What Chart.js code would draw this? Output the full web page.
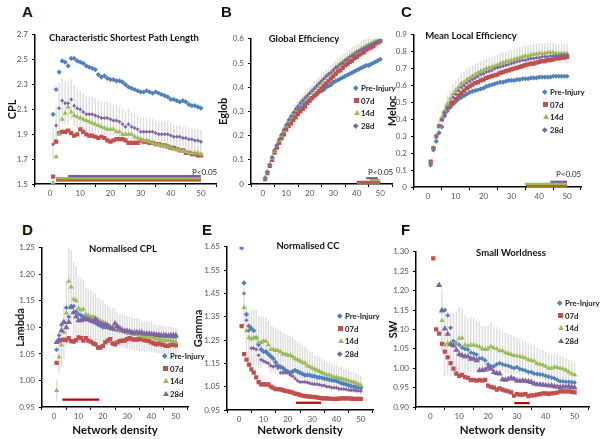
<!DOCTYPE html>
<html>
<head>
<meta charset="utf-8">
<script src="https://cdn.jsdelivr.net/npm/chart.js@4.4.1/dist/chart.umd.min.js"></script>
<style>
  body { margin: 0; background: #fff; width: 600px; height: 439px; position: relative; overflow: hidden; font-family: Lato, 'Liberation Sans', sans-serif; }
  canvas { position: absolute; }
  .t { position: absolute; white-space: nowrap; color: #111; font-weight: bold; line-height: 1; }
  .letter { font-size: 15px; font-family: 'Liberation Sans', Arial, sans-serif; }
  .title { font-size: 9.5px; transform: translateX(-50%); }
  .p05 { font-weight: normal; font-size: 8px; color: #222; }
  .leg { position: absolute; font-size: 7.8px; font-weight: bold; color: #222; line-height: 1; }
  .leg div { height: 0; position: relative; }
  .leg span.m { position: absolute; left: 0; top: -3px; }
  .leg span.l { position: absolute; left: 7px; top: -4px; white-space: nowrap; }
  .dia { width: 3.5px; height: 3.5px; transform: rotate(45deg); }
  .sq { width: 5px; height: 5px; margin-top: -0.5px; }
  .tri { width: 0; height: 0; border-left: 3px solid transparent; border-right: 3px solid transparent; border-bottom: 5px solid; margin-top: -1px; }
</style>
</head>
<body>
<canvas id="chartA"></canvas>
<canvas id="chartB"></canvas>
<canvas id="chartC"></canvas>
<canvas id="chartD"></canvas>
<canvas id="chartE"></canvas>
<canvas id="chartF"></canvas>

<div class="t letter" style="left:22px;top:4px">A</div>
<div class="t letter" style="left:221px;top:4px">B</div>
<div class="t letter" style="left:401px;top:4px">C</div>
<div class="t letter" style="left:22px;top:222px">D</div>
<div class="t letter" style="left:202px;top:222px">E</div>
<div class="t letter" style="left:401px;top:222px">F</div>

<div class="t title" style="left:124px;top:33px">Characteristic Shortest Path Length</div>
<div class="t title" style="left:304px;top:34px">Global Efficiency</div>
<div class="t title" style="left:471px;top:31px">Mean Local Efficiency</div>
<div class="t title" style="left:123px;top:244px">Normalised CPL</div>
<div class="t title" style="left:308px;top:241px">Normalised CC</div>
<div class="t title" style="left:511px;top:248px">Small Worldness</div>

<div class="t p05" style="left:192px;top:168px">P&lt;0.05</div>
<div class="t p05" style="left:368px;top:168px">P&lt;0.05</div>
<div class="t p05" style="left:556px;top:170px">P&lt;0.05</div>

<div id="legB" class="leg" style="left:354px;top:89px"></div>
<div id="legC" class="leg" style="left:543px;top:93px"></div>
<div id="legD" class="leg" style="left:163px;top:357px"></div>
<div id="legE" class="leg" style="left:338px;top:317px"></div>
<div id="legF" class="leg" style="left:558px;top:304px"></div>

<script>
// network density, x = 1..50
const density = Array.from({ length: 50 }, (_, i) => i + 1);
const groups = ['Pre-Injury', '07d', '14d', '28d'];

// A - characteristic shortest path length
const cplPre = [2.06,2.26,2.40,2.49,2.48,2.45,2.51,2.51,2.49,2.48, 2.47,2.45,2.44,2.43,2.42,2.38,2.36,2.37,2.35,2.34, 2.34,2.33,2.33,2.32,2.30,2.28,2.27,2.26,2.25,2.24, 2.24,2.25,2.24,2.23,2.24,2.23,2.22,2.21,2.20,2.18, 2.18,2.17,2.16,2.17,2.16,2.14,2.13,2.13,2.12,2.11];
const cpl07 = [1.56,1.84,1.91,1.92,1.92,1.93,1.91,1.89,1.90,1.94, 1.92,1.90,1.89,1.89,1.88,1.87,1.88,1.87,1.85,1.84, 1.85,1.86,1.86,1.86,1.85,1.83,1.83,1.83,1.83,1.85, 1.84,1.84,1.83,1.83,1.82,1.82,1.81,1.81,1.80,1.79, 1.79,1.78,1.77,1.77,1.75,1.75,1.74,1.74,1.73,1.73];
const cpl14 = [1.51,1.72,1.90,2.02,2.07,2.12,2.08,2.05,2.04,2.03, 2.02,2.01,2.00,1.99,1.98,1.97,1.96,1.95,1.94,1.94, 1.94,1.92,1.92,1.90,1.90,1.90,1.90,1.88,1.87,1.86, 1.85,1.85,1.84,1.83,1.82,1.82,1.81,1.81,1.80,1.79, 1.78,1.78,1.77,1.77,1.76,1.75,1.75,1.75,1.75,1.74];
const cpl28 = [1.82,1.97,2.11,2.17,2.15,2.15,2.18,2.13,2.11,2.10, 2.08,2.06,2.06,2.06,2.05,2.04,2.03,2.03,2.03,2.02, 2.01,2.01,2.00,1.98,1.96,1.98,1.96,1.95,1.94,1.92, 1.92,1.92,1.92,1.92,1.91,1.90,1.90,1.90,1.90,1.89, 1.88,1.88,1.88,1.87,1.87,1.86,1.86,1.85,1.85,1.84];
const cplErr = [0.12,0.15,0.20,0.18,0.17,0.17,0.16,0.16,0.15,0.15, 0.15,0.14,0.14,0.14,0.14,0.13,0.13,0.13,0.13,0.13, 0.12,0.12,0.12,0.12,0.12,0.12,0.11,0.11,0.11,0.11, 0.11,0.11,0.11,0.10,0.10,0.10,0.10,0.10,0.10,0.10, 0.09,0.09,0.09,0.09,0.09,0.09,0.09,0.09,0.09,0.09];
const cplSig = [[6, 50, 1.563], [2, 50, 1.548], [2, 50, 1.537], [2, 50, 1.527]];

// B - global efficiency
const eglobPre = [0.025,0.05,0.08,0.11,0.135,0.16,0.18,0.20,0.22,0.24, 0.255,0.27,0.285,0.295,0.305,0.315,0.325,0.335,0.34,0.35, 0.355,0.365,0.37,0.38,0.385,0.39,0.40,0.405,0.41,0.42, 0.425,0.43,0.435,0.44,0.445,0.45,0.455,0.46,0.465,0.47, 0.475,0.48,0.485,0.49,0.49,0.495,0.50,0.505,0.51,0.515];
const eglob07 = [0.02,0.045,0.075,0.10,0.13,0.15,0.17,0.19,0.205,0.225, 0.24,0.25,0.265,0.275,0.29,0.30,0.31,0.32,0.335,0.345, 0.355,0.365,0.375,0.385,0.395,0.405,0.415,0.425,0.435,0.445, 0.455,0.465,0.47,0.48,0.49,0.495,0.505,0.51,0.52,0.525, 0.535,0.54,0.545,0.555,0.56,0.565,0.57,0.58,0.585,0.59];
const eglob14 = [0.025,0.05,0.08,0.105,0.135,0.16,0.18,0.20,0.22,0.24, 0.26,0.275,0.29,0.305,0.32,0.33,0.345,0.355,0.365,0.375, 0.385,0.395,0.405,0.415,0.425,0.435,0.445,0.45,0.46,0.47, 0.48,0.49,0.495,0.505,0.51,0.52,0.525,0.535,0.54,0.545, 0.55,0.56,0.565,0.57,0.575,0.58,0.585,0.59,0.595,0.60];
const eglob28 = [0.025,0.05,0.08,0.11,0.14,0.16,0.185,0.205,0.225,0.245, 0.265,0.28,0.295,0.31,0.32,0.335,0.345,0.355,0.365,0.375, 0.385,0.395,0.405,0.415,0.425,0.435,0.445,0.455,0.46,0.47, 0.48,0.485,0.495,0.50,0.51,0.515,0.525,0.53,0.535,0.545, 0.55,0.555,0.56,0.565,0.57,0.575,0.58,0.585,0.59,0.595];
const eglobErr = [0.004,0.006,0.008,0.01,0.012,0.013,0.014,0.015,0.016,0.017, 0.018,0.019,0.02,0.02,0.021,0.022,0.022,0.023,0.024,0.024, 0.025,0.025,0.026,0.026,0.027,0.027,0.028,0.028,0.028,0.029, 0.029,0.029,0.03,0.03,0.03,0.03,0.03,0.03,0.03,0.03, 0.03,0.03,0.03,0.03,0.03,0.03,0.03,0.03,0.03,0.03];
const eglobSig = [[44, 49, 0.024], [45.5, 50, 0.016], [40, 50, 0.009], [40, 50, 0.004]];

// C - mean local efficiency
const melocPre = [0.13,0.22,0.27,0.32,0.355,0.42,0.45,0.47,0.49,0.505, 0.52,0.53,0.54,0.55,0.56,0.565,0.57,0.575,0.58,0.585, 0.595,0.60,0.605,0.61,0.615,0.62,0.62,0.625,0.63,0.63, 0.63,0.635,0.635,0.64,0.64,0.64,0.645,0.645,0.645,0.65, 0.65,0.65,0.65,0.65,0.655,0.655,0.655,0.655,0.655,0.655];
const meloc07 = [0.15,0.23,0.30,0.36,0.40,0.44,0.47,0.48,0.50,0.52, 0.54,0.555,0.57,0.585,0.595,0.605,0.615,0.62,0.63,0.635, 0.645,0.65,0.655,0.66,0.665,0.675,0.68,0.685,0.69,0.695, 0.70,0.705,0.71,0.715,0.72,0.725,0.73,0.73,0.735,0.74, 0.745,0.745,0.75,0.75,0.755,0.76,0.76,0.765,0.765,0.77];
const meloc14 = [0.14,0.23,0.30,0.36,0.41,0.45,0.49,0.52,0.55,0.57, 0.59,0.61,0.62,0.635,0.645,0.655,0.665,0.675,0.685,0.69, 0.70,0.705,0.71,0.715,0.72,0.73,0.735,0.74,0.745,0.75, 0.755,0.76,0.765,0.77,0.775,0.775,0.78,0.785,0.785,0.79, 0.79,0.79,0.795,0.795,0.795,0.79,0.79,0.79,0.79,0.79];
const meloc28 = [0.14,0.23,0.30,0.36,0.40,0.44,0.47,0.50,0.53,0.55, 0.57,0.59,0.60,0.615,0.625,0.635,0.645,0.655,0.665,0.67, 0.68,0.685,0.69,0.70,0.705,0.71,0.715,0.72,0.725,0.73, 0.735,0.74,0.745,0.75,0.75,0.755,0.76,0.76,0.765,0.765, 0.77,0.77,0.77,0.775,0.775,0.775,0.775,0.78,0.78,0.78];
const melocErr = [0.01,0.02,0.03,0.035,0.04,0.045,0.05,0.05,0.055,0.055, 0.06,0.06,0.06,0.06,0.06,0.06,0.06,0.06,0.06,0.06, 0.06,0.06,0.06,0.06,0.06,0.06,0.06,0.06,0.06,0.06, 0.06,0.06,0.06,0.06,0.06,0.06,0.06,0.06,0.06,0.06, 0.06,0.06,0.055,0.055,0.055,0.055,0.055,0.055,0.055,0.055];
const melocSig = [[44, 50, 0.031], [34.7, 50, 0.019], [35.2, 50, 0.012], [35.6, 50, 0.006]];

// D - normalised CPL (lambda)
const lambdaPre = [1.058,1.085,1.105,1.11,1.137,1.12,1.14,1.14,1.13,1.125, 1.123,1.12,1.12,1.115,1.112,1.11,1.108,1.105,1.103,1.10, 1.10,1.10,1.098,1.097,1.096,1.095,1.094,1.093,1.092,1.09, 1.09,1.089,1.088,1.088,1.087,1.087,1.086,1.086,1.085,1.085, 1.085,1.084,1.084,1.084,1.083,1.083,1.083,1.083,1.082,1.082];
const lambda07 = [1.033,1.075,1.076,1.077,1.076,1.08,1.074,1.073,1.076,1.081, 1.08,1.075,1.08,1.075,1.073,1.07,1.068,1.062,1.062,1.065, 1.072,1.075,1.078,1.07,1.068,1.072,1.074,1.075,1.075,1.078, 1.08,1.078,1.077,1.077,1.078,1.078,1.076,1.075,1.074,1.072, 1.07,1.068,1.07,1.068,1.067,1.065,1.065,1.067,1.068,1.066];
const lambda14 = [0.981,1.044,1.067,1.091,1.127,1.187,1.176,1.153,1.15,1.136, 1.133,1.134,1.125,1.122,1.12,1.12,1.118,1.115,1.112,1.11, 1.108,1.105,1.102,1.10,1.10,1.098,1.095,1.093,1.092,1.09, 1.09,1.088,1.087,1.087,1.085,1.084,1.082,1.083,1.082,1.082, 1.08,1.078,1.078,1.077,1.075,1.075,1.076,1.075,1.074,1.073];
const lambda28 = [1.072,1.076,1.094,1.11,1.10,1.11,1.138,1.128,1.12,1.113, 1.113,1.115,1.115,1.115,1.113,1.112,1.115,1.11,1.107,1.105, 1.105,1.103,1.10,1.098,1.107,1.102,1.098,1.095,1.093,1.093, 1.092,1.09,1.09,1.09,1.09,1.09,1.088,1.088,1.088,1.087, 1.087,1.086,1.086,1.085,1.085,1.085,1.084,1.085,1.085,1.085];
const lambdaErr = [0.02,0.03,0.04,0.05,0.06,0.07,0.07,0.07,0.065,0.06, 0.06,0.055,0.05,0.05,0.05,0.045,0.045,0.04,0.04,0.04, 0.035,0.035,0.035,0.035,0.035,0.03,0.03,0.03,0.03,0.03, 0.03,0.03,0.03,0.03,0.03,0.028,0.028,0.028,0.028,0.028, 0.026,0.026,0.026,0.026,0.026,0.025,0.025,0.025,0.025,0.025];
const lambdaSig = [[3.4, 18.5, 0.964]];

// E - normalised CC (gamma)
const gammaPre = [1.645,1.495,1.36,1.31,1.30,1.29,1.26,1.23,1.21,1.20, 1.20,1.19,1.18,1.17,1.155,1.14,1.135,1.13,1.12,1.115, 1.11,1.115,1.12,1.115,1.11,1.105,1.10,1.10,1.10,1.095, 1.095,1.09,1.09,1.088,1.085,1.083,1.08,1.078,1.076,1.075, 1.07,1.065,1.062,1.06,1.055,1.052,1.05,1.048,1.046,1.045];
const gamma07 = [1.31,1.19,1.166,1.145,1.124,1.11,1.09,1.07,1.06,1.06, 1.06,1.06,1.05,1.045,1.04,1.04,1.038,1.035,1.032,1.03, 1.028,1.025,1.02,1.018,1.015,1.012,1.01,1.008,1.007,1.006, 1.005,1.004,1.002,1.0,1.0,1.0,0.999,0.998,0.998,0.998, 0.999,1.0,1.0,1.0,1.0,0.999,0.998,0.998,0.998,0.998];
const gamma14 = [null,1.39,1.29,1.26,1.255,1.26,1.26,1.24,1.24,1.246, 1.245,1.23,1.21,1.21,1.205,1.205,1.20,1.19,1.19,1.185, 1.185,1.18,1.17,1.165,1.16,1.155,1.15,1.14,1.135,1.13, 1.125,1.12,1.115,1.11,1.105,1.10,1.10,1.095,1.09,1.09, 1.085,1.085,1.08,1.08,1.075,1.07,1.07,1.065,1.06,1.055];
const gamma28 = [null,1.45,1.335,1.29,1.215,1.215,1.21,1.185,1.165,1.16, 1.155,1.15,1.14,1.135,1.14,1.13,1.11,1.11,1.11,1.11, 1.10,1.095,1.085,1.075,1.07,1.07,1.07,1.068,1.065,1.062, 1.06,1.06,1.058,1.055,1.055,1.05,1.05,1.045,1.045,1.045, 1.04,1.04,1.04,1.038,1.036,1.035,1.035,1.033,1.033,1.032];
const gammaErr = [null,0.08,0.1,0.11,0.12,0.12,0.12,0.11,0.11,0.1, 0.1,0.1,0.1,0.095,0.095,0.09,0.09,0.09,0.085,0.085, 0.08,0.08,0.08,0.075,0.075,0.07,0.07,0.07,0.065,0.065, 0.06,0.06,0.06,0.058,0.056,0.055,0.054,0.052,0.05,0.05, 0.048,0.047,0.046,0.045,0.044,0.043,0.042,0.041,0.04,0.04];
const gammaSig = [[23.3, 33.6, 0.981]];

// F - small worldness
const swPre = [null,null,null,1.15,1.15,1.136,1.104,1.07,1.065,1.06, 1.053,1.05,1.048,1.04,1.038,1.035,1.025,1.025,1.02,1.01, 1.005,1.005,1.01,1.013,1.01,1.008,1.006,1.003,1.0,1.003, 0.998,0.996,0.994,0.99,0.99,0.986,0.985,0.984,0.983,0.98, 0.978,0.976,0.974,0.97,0.966,0.966,0.965,0.965,0.964,0.963];
const sw07 = [1.283,1.10,1.089,1.063,1.043,1.028,1.013,0.999,0.986,0.98, 0.983,0.977,0.975,0.969,0.97,0.968,0.97,0.968,0.97,0.955, 0.952,0.95,0.945,0.948,0.945,0.942,0.94,0.938,0.929,0.933, 0.932,0.932,0.933,0.928,0.93,0.93,0.932,0.933,0.935,0.935, 0.934,0.935,0.936,0.937,0.94,0.94,0.94,0.94,0.939,0.938];
const sw14 = [null,null,null,1.123,1.06,1.064,1.06,1.062,1.065,1.077, 1.078,1.06,1.058,1.06,1.06,1.058,1.055,1.05,1.048,1.05, 1.056,1.052,1.05,1.045,1.045,1.04,1.038,1.035,1.033,1.032, 1.03,1.028,1.026,1.022,1.02,1.018,1.012,1.01,1.008,1.005, 1.0,1.0,1.003,1.002,1.0,0.998,0.995,0.99,0.986,0.983];
const sw28 = [null,null,1.214,1.148,1.102,1.088,1.062,1.058,1.047,1.036, 1.033,1.03,1.03,1.024,1.025,1.02,0.994,0.995,0.996,1.001, 0.998,0.99,0.987,0.986,0.971,0.97,0.972,0.975,0.972,0.968, 0.967,0.968,0.967,0.966,0.964,0.96,0.958,0.958,0.957,0.956, 0.955,0.955,0.953,0.952,0.951,0.952,0.952,0.953,0.951,0.95];
const swErr = [null,null,null,0.08,0.08,0.08,0.08,0.08,0.08,0.08, 0.075,0.075,0.07,0.07,0.07,0.065,0.065,0.06,0.06,0.06, 0.06,0.055,0.055,0.055,0.05,0.05,0.05,0.05,0.048,0.046, 0.045,0.044,0.043,0.042,0.041,0.04,0.04,0.039,0.038,0.037, 0.036,0.035,0.034,0.033,0.032,0.031,0.03,0.03,0.03,0.03];
const swSig = [[29.1, 34.4, 0.91]];

// colours
const colPre = '#4f81bd', col07 = '#c0504d', col14 = '#9bbb59', col28 = '#8064a2';
const sigColours = ['#7a5aa6', '#9bbb59', '#c0504d', '#b07a1a'];

Chart.defaults.font.family = "Lato, 'Liberation Sans', sans-serif";
Chart.defaults.color = '#555';

function pts(vals) {
  return density.map((x, i) => ({ x: x, y: vals[i] }));
}

function bars(vals, err) {
  return density.filter((x, i) => vals[i] != null && err[i] != null)
    .map(x => ({ x: x, y: [vals[x - 1] - err[x - 1], vals[x - 1] + err[x - 1]] }));
}

function makeChart(id, p) {
  const canvas = document.getElementById(id);
  const padTop = 5, padRight = 6;
  canvas.width = p.R - p.L + p.yW + padRight;
  canvas.height = p.B - p.T + padTop + p.xH;
  canvas.style.left = (p.L - p.yW) + 'px';
  canvas.style.top = (p.T - padTop) + 'px';

  const markers = p.markers;
  const datasets = [
    { type: 'bar', data: bars(p.series[p.errOn], p.err), backgroundColor: '#dcdcdc', barThickness: 0.7, order: 10 }
  ];
  p.sig.forEach((s, i) => {
    datasets.push({ type: 'line', data: [{ x: s[0], y: s[2] }, { x: s[1], y: s[2] }],
      borderColor: p.sig.length === 1 ? '#c00000' : sigColours[i], borderWidth: 2.2, pointRadius: 0, order: 5, clip: false });
  });
  const cols = [colPre, col07, col14, col28];
  p.series.forEach((s, i) => {
    datasets.push({ type: 'scatter', label: groups[i], data: pts(s), pointStyle: markers[i][0], pointRadius: markers[i][1],
      backgroundColor: cols[i], borderColor: cols[i], borderWidth: 0, order: 4 - i });
  });

  return new Chart(canvas, {
    type: 'scatter',
    data: { datasets: datasets },
    options: {
      responsive: false,
      animation: false,
      layout: { padding: { top: padTop, right: padRight, left: 0, bottom: 0 }, autoPadding: false },
      plugins: { legend: { display: false }, tooltip: { enabled: false } },
      scales: {
        x: {
          type: 'linear', min: 0, max: 50,
          ticks: { stepSize: 10, font: { size: 8 }, padding: 2, maxRotation: 0 },
          grid: { drawOnChartArea: false, color: '#000', tickLength: 3 },
          border: { color: '#000', width: 1.5 },
          title: { display: !!p.xTitle, text: p.xTitle || '', color: '#111', font: { size: 11.5, weight: 'bold' }, padding: { top: 2, bottom: 0 } },
          afterFit: s => { s.height = p.xH; }
        },
        y: {
          min: p.yMin, max: p.yMax,
          ticks: { stepSize: p.yStep, font: { size: 8 }, padding: 4, callback: v => v === 0 ? '0' : v.toFixed(p.dec) },
          grid: { drawOnChartArea: false, color: '#000', tickLength: 3 },
          border: { color: '#000', width: 1.5 },
          title: { display: true, text: p.yTitle, color: '#111', font: { size: 11, weight: 'bold' }, padding: 0 },
          afterFit: s => { s.width = p.yW; }
        }
      }
    }
  });
}

const smallMarks = [['rectRot', 2.6], ['rect', 3], ['triangle', 3], ['rectRot', 2]];
const triMarks = [['rectRot', 2.4], ['rect', 3], ['triangle', 3], ['triangle', 3.6]];

makeChart('chartA', { L: 35, T: 31, R: 216, B: 184, yW: 29, xH: 16, yMin: 1.5, yMax: 2.7, yStep: 0.2, dec: 1, yTitle: 'CPL',
  series: [cplPre, cpl07, cpl14, cpl28], err: cplErr, errOn: 3, sig: cplSig, markers: smallMarks });
makeChart('chartB', { L: 251, T: 35, R: 392, B: 184, yW: 34, xH: 16, yMin: 0, yMax: 0.6, yStep: 0.1, dec: 1, yTitle: 'Eglob',
  series: [eglobPre, eglob07, eglob14, eglob28], err: eglobErr, errOn: 2, sig: eglobSig, markers: smallMarks });
makeChart('chartC', { L: 414, T: 31, R: 581, B: 187, yW: 28, xH: 16, yMin: 0, yMax: 0.9, yStep: 0.1, dec: 1, yTitle: 'Meloc',
  series: [melocPre, meloc07, meloc14, meloc28], err: melocErr, errOn: 2, sig: melocSig, markers: smallMarks });
makeChart('chartD', { L: 42, T: 244, R: 188, B: 407, yW: 28, xH: 30, yMin: 0.95, yMax: 1.25, yStep: 0.05, dec: 2, yTitle: 'Lambda', xTitle: 'Network density',
  series: [lambdaPre, lambda07, lambda14, lambda28], err: lambdaErr, errOn: 2, sig: lambdaSig, markers: triMarks });
makeChart('chartE', { L: 227, T: 243, R: 373, B: 410, yW: 35, xH: 27, yMin: 0.95, yMax: 1.65, yStep: 0.1, dec: 2, yTitle: 'Gamma', xTitle: 'Network density',
  series: [gammaPre, gamma07, gamma14, gamma28], err: gammaErr, errOn: 2, sig: gammaSig, markers: smallMarks });
makeChart('chartF', { L: 416, T: 248, R: 589, B: 407, yW: 29, xH: 30, yMin: 0.9, yMax: 1.3, yStep: 0.05, dec: 2, yTitle: 'SW', xTitle: 'Network density',
  series: [swPre, sw07, sw14, sw28], err: swErr, errOn: 2, sig: swSig, markers: triMarks });

// legends
function legend(id, markerKinds) {
  const cols = [colPre, col07, col14, col28];
  const el = document.getElementById(id);
  el.innerHTML = groups.map((g, i) => {
    const k = markerKinds[i];
    const style = k === 'tri' ? 'border-bottom-color:' + cols[i] : 'background:' + cols[i];
    return '<div style="top:' + (i * 12.5) + 'px"><span class="m ' + k + '" style="' + style + '"></span><span class="l">' + g + '</span></div>';
  }).join('');
}
legend('legB', ['dia', 'sq', 'tri', 'dia']);
legend('legC', ['dia', 'sq', 'tri', 'dia']);
legend('legD', ['dia', 'sq', 'tri', 'tri']);
legend('legE', ['dia', 'sq', 'tri', 'dia']);
legend('legF', ['dia', 'sq', 'tri', 'tri']);
</script>
</body>
</html>
